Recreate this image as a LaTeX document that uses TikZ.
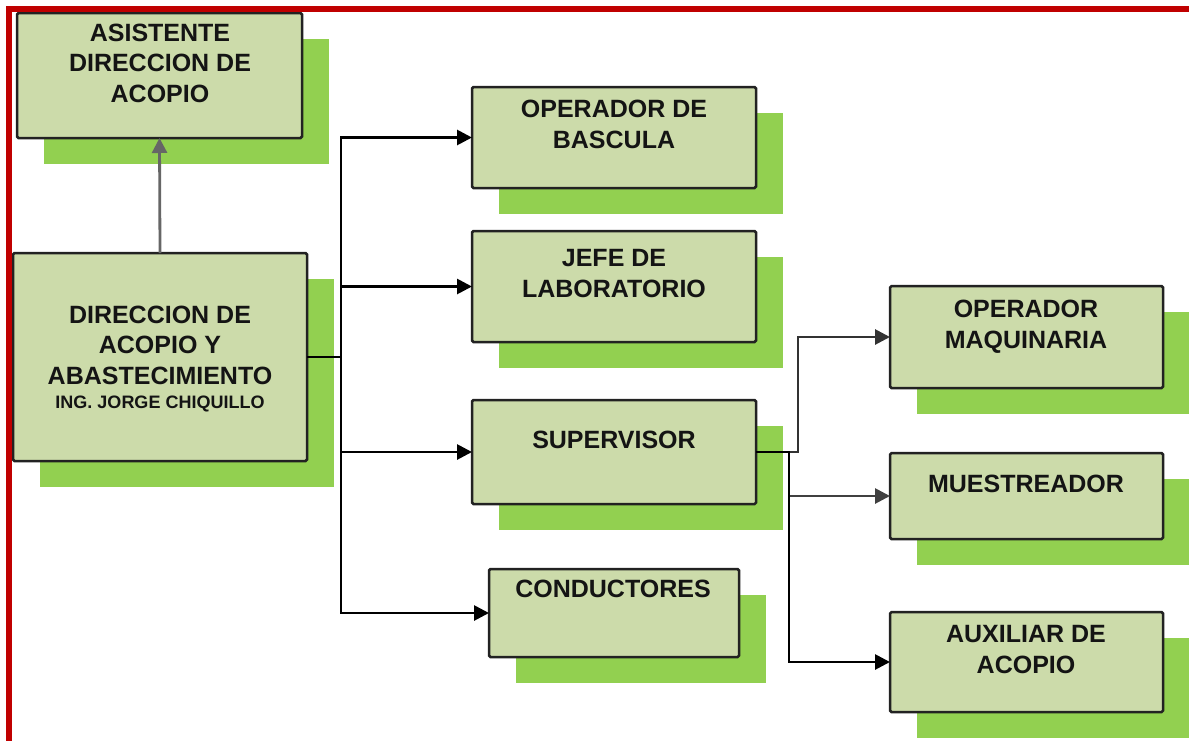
\documentclass[tikz,border=0pt]{standalone}
\usepackage{fontspec}
\setmainfont{Liberation Sans}
\usetikzlibrary{arrows.meta}
\definecolor{boxfill}{HTML}{CCDBAA}
\definecolor{shadowfill}{HTML}{92D050}
\definecolor{framered}{HTML}{C00000}
\definecolor{ink}{HTML}{141414}
\definecolor{edge}{HTML}{222222}

% one unit of the chart: offset green shadow plus the framed box
\newcommand\orgunit[5]{%
  \fill[shadowfill] (#2+27,#3+26) rectangle ++(#4,#5);
  \node[unitbox, minimum width=#4pt, minimum height=#5pt] (#1) at (#2+#4/2,#3+#5/2) {};
}

\tikzset{
  unitbox/.style={draw=edge, fill=boxfill, line width=2.5pt, rounded corners=1.5pt,
    inner sep=0pt, outer sep=0pt},
  % multi-line labels are placed by the baseline of their last line
  unittext/.style={font=\bfseries\fontsize{25}{30.5}\selectfont, text=ink,
    align=center, anchor=base, inner sep=0pt},
  subtext/.style={font=\bfseries\fontsize{18}{21}\selectfont, text=ink,
    anchor=base, inner sep=0pt},
  link/.style={draw=black, line width=2.8pt,
    -{Triangle[length=15pt,width=15pt]}},
}

\begin{document}
\begin{tikzpicture}[x=1pt,y=-1pt]
\clip (0,0) rectangle (1189,740);
\fill[white] (0,0) rectangle (1189,740);

% boxes: name, left, top, width, height
\orgunit{asis}{17}{13}{285}{125}
\orgunit{dir}{13}{253}{294}{208}
\orgunit{bas}{472}{87}{284}{101}
\orgunit{jefe}{472}{231}{284}{111}
\orgunit{sup}{472}{400}{284}{104}
\orgunit{cond}{489}{569}{250}{88}
\orgunit{maq}{890}{286}{273}{102}
\orgunit{mue}{890}{453}{273}{86}
\orgunit{aux}{890}{612}{273}{100}

% labels
\node[unittext] (asis-t) at (160,102) {ASISTENTE\\DIRECCION DE\\ACOPIO};
\node[unittext] (dir-t) at (160,384) {DIRECCION DE\\ACOPIO Y\\ABASTECIMIENTO};
\node[subtext] (dir-s) at (160,408) {ING. JORGE CHIQUILLO};
\node[unittext] (bas-t) at (614,148) {OPERADOR DE\\BASCULA};
\node[unittext] (jefe-t) at (614,297) {JEFE DE\\LABORATORIO};
\node[unittext] (sup-t) at (614,448) {SUPERVISOR};
\node[unittext] (cond-t) at (613,597) {CONDUCTORES};
\node[unittext] (maq-t) at (1026,348) {OPERADOR\\MAQUINARIA};
\node[unittext] (mue-t) at (1026,492) {MUESTREADOR};
\node[unittext] (aux-t) at (1026,673) {AUXILIAR DE\\ACOPIO};

% bus lines
\coordinate (busA) at (341,0);
\coordinate (busB) at (798,0);
\coordinate (busC) at (789,0);

% connectors
\draw[link, draw=black!60] (dir.north) -- (asis.south);
\draw[link] (dir.east) -- (dir.east -| busA) |- (bas.west);
\draw[link] (dir.east) -- (dir.east -| busA) |- (jefe.west);
\draw[link] (dir.east) -- (dir.east -| busA) |- (sup.west);
\draw[link] (dir.east) -- (dir.east -| busA) |- (cond.west);
\draw[link, draw=black!80] (sup.east) -- (sup.east -| busB) |- (maq.west);
\draw[link, draw=black!75] (sup.east) -- (sup.east -| busC) |- (mue.west);
\draw[link] (sup.east) -- (sup.east -| busC) |- (aux.west);

% red frame along the top and left edges
\draw[framered, line width=6pt] (9,760) -- (9,9) -- (1200,9);
\end{tikzpicture}
\end{document}
